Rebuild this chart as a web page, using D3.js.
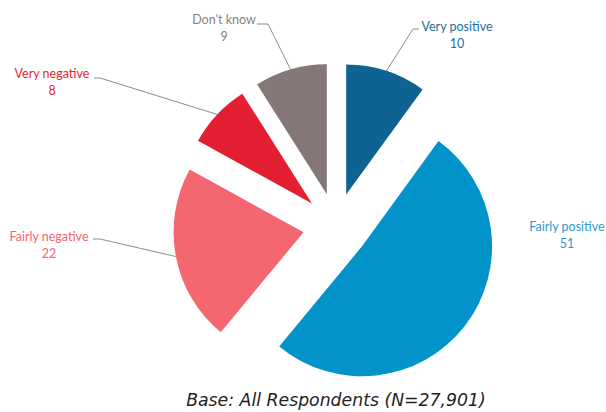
<!DOCTYPE html>
<html><head><meta charset="utf-8">
<script src="https://cdn.jsdelivr.net/npm/d3@7"></script>
<style>body{margin:0;background:#fff}svg{display:block}</style>
</head><body>
<svg id="c" width="606" height="412"></svg>
<script>
const categories = ["Very positive", "Fairly positive", "Fairly negative", "Very negative", "Don't know"];
const values = [10, 51, 22, 8, 9];
const sliceColors = ["#0E6392", "#0393CB", "#F46670", "#E31F31", "#857677"];
const labelColors = ["#1C6FA0", "#2A9AD4", "#F46670", "#E31F31", "#8A7F80"];
const baseNote = "Base: All Respondents (N=27,901)";

// layout (not data)
const cx = 336, cy = 226, R = 130, explode = 33;
const labelLayout = [
  {tx: 457, ty: 27, elbow: [419, 29], knee: [413, 29], leader: true},
  {tx: 567, ty: 227, leader: false},
  {tx: 49, ty: 237, elbow: [93, 239], knee: [100, 239], leader: true},
  {tx: 52, ty: 74, elbow: [94, 78], knee: [100, 78], leader: true},
  {tx: 224, ty: 20, elbow: [257, 24], knee: [268, 24], leader: true}
];

const svg = d3.select("#c");
const data = categories.map((c, i) => ({cat: c, value: values[i], i}));
const pie = d3.pie().sort(null).value(d => d.value);
const arcs = pie(data);
const arc = d3.arc().innerRadius(0).outerRadius(R);

const g = svg.append("g");
arcs.forEach((a, i) => {
  const mid = (a.startAngle + a.endAngle) / 2;
  const ox = cx + Math.sin(mid) * explode, oy = cy - Math.cos(mid) * explode;
  g.append("path")
    .attr("transform", `translate(${ox},${oy})`)
    .attr("d", arc(a))
    .attr("fill", sliceColors[i]);
  const L = labelLayout[i];
  if (L.leader) {
    const ax = ox + Math.sin(mid) * R, ay = oy - Math.cos(mid) * R;
    svg.append("polyline")
      .attr("points", [[ax, ay], L.knee, L.elbow].map(p => p.join(",")).join(" "))
      .attr("fill", "none").attr("stroke", "#8c8c8c").attr("stroke-width", 1);
  }
  const t = svg.append("text")
    .attr("x", L.tx).attr("y", L.ty)
    .attr("text-anchor", "middle")
    .attr("font-family", "Lato, 'Open Sans', sans-serif")
    .attr("font-size", 12.5)
    .attr("fill", labelColors[i]);
  t.append("tspan").attr("x", L.tx).attr("dy", "0.35em").text(a.data.cat);
  t.append("tspan").attr("x", L.tx).attr("dy", "1.35em").text(a.data.value);
});

svg.append("text")
  .attr("x", 336).attr("y", 406)
  .attr("text-anchor", "middle")
  .attr("font-family", "'DejaVu Sans', sans-serif")
  .attr("font-style", "italic")
  .attr("font-size", 17.3)
  .attr("fill", "#222")
  .text(baseNote);
</script>
</body></html>
